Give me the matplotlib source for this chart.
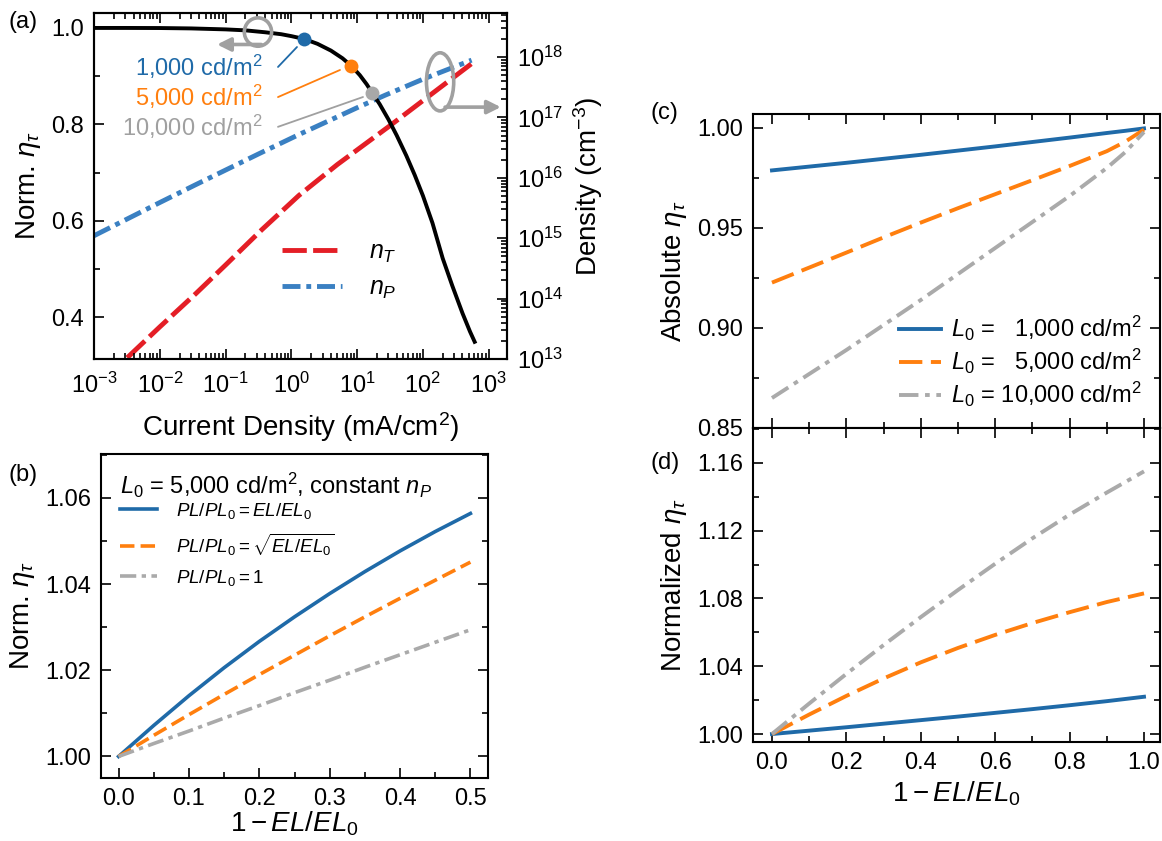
import numpy as np
import matplotlib
matplotlib.use('Agg')
import matplotlib.pyplot as plt
from matplotlib.patches import Ellipse
from matplotlib.ticker import MultipleLocator, LogLocator, NullFormatter

plt.rcParams['font.family'] = ['Liberation Sans', 'DejaVu Sans']
plt.rcParams['mathtext.fontset'] = 'custom'
plt.rcParams['mathtext.rm'] = 'Liberation Sans'
plt.rcParams['mathtext.it'] = 'Liberation Sans:italic'
plt.rcParams['mathtext.bf'] = 'Liberation Sans:bold'
plt.rcParams['axes.linewidth'] = 1.5

# ---------------- data ----------------
# (a) normalized eta_tau vs current density (mA/cm^2)
J_eta = [1e-3, 3e-3, 1e-2, 3e-2, 0.1, 0.2, 0.4, 0.7, 1.0, 1.58, 2.5, 4, 6, 8.2, 11, 14, 17, 22, 30, 40,
         56, 75, 100, 140, 200, 280, 400, 520, 630]
eta_a = [1.0, 1.0, 0.9998, 0.999, 0.997, 0.995, 0.991, 0.987, 0.983, 0.977, 0.967, 0.953, 0.937, 0.921,
         0.902, 0.883, 0.865, 0.842, 0.81, 0.777, 0.735, 0.695, 0.652, 0.595, 0.522, 0.465, 0.408, 0.37, 0.345]
# trap density n_T (cm^-3)
J_nT = [3.2e-3, 1e-2, 0.035, 0.1, 0.36, 1.3, 5.0, 31, 100, 560]
nT = [1.05e13, 3.4e13, 1.2e14, 3.6e14, 1.4e15, 5.1e15, 1.66e16, 7.2e16, 1.9e17, 7.9e17]
# polaron density n_P (cm^-3)
J_nP = [1e-3, 1e-2, 0.036, 0.32, 1.3, 10, 27, 100, 550]
nP = [1.1e15, 3.9e15, 7.8e15, 2.5e16, 5.2e16, 1.45e17, 2.35e17, 4.3e17, 8.9e17]
# highlighted luminance points on eta curve
L_labels = ['1,000 cd/m$^2$', '5,000 cd/m$^2$', '10,000 cd/m$^2$']
J_dots = [1.58, 8.2, 17]
eta_dots = [0.977, 0.921, 0.865]

# (b) L0 = 5,000 cd/m^2, constant n_P
x_b = [0, 0.05, 0.1, 0.15, 0.2, 0.25, 0.3, 0.35, 0.4, 0.45, 0.5]
b_lin = [1.0, 1.0072, 1.0141, 1.0206, 1.0267, 1.0324, 1.0378, 1.0429, 1.0477, 1.0522, 1.0564]
b_sqrt = [1.0, 1.0049, 1.0097, 1.0144, 1.0190, 1.0235, 1.0280, 1.0324, 1.0367, 1.0409, 1.0451]
b_one = [1.0, 1.003, 1.0059, 1.0089, 1.0118, 1.0148, 1.0177, 1.0207, 1.0236, 1.0265, 1.0294]
b_labels = [r'$PL/PL_0 = EL/EL_0$', r'$PL/PL_0 = \sqrt{EL/EL_0}$', r'$PL/PL_0 = 1$']

# (c) absolute eta_tau
x_c = [0, 0.1, 0.2, 0.3, 0.4, 0.5, 0.6, 0.7, 0.8, 0.9, 0.95, 1.0]
c_1000 = [0.9788, 0.9807, 0.9826, 0.9846, 0.9866, 0.9887, 0.9908, 0.9930, 0.9952, 0.9975, 0.9986, 0.9998]
c_5000 = [0.9227, 0.9302, 0.9377, 0.9453, 0.9527, 0.9599, 0.9669, 0.9739, 0.9810, 0.9884, 0.9932, 0.9992]
c_10000 = [0.865, 0.877, 0.889, 0.9015, 0.914, 0.927, 0.940, 0.953, 0.966, 0.980, 0.988, 0.998]
c_labels = [r'$L_0$ =   1,000 cd/m$^2$', r'$L_0$ =   5,000 cd/m$^2$', r'$L_0$ = 10,000 cd/m$^2$']

# (d) normalized eta_tau
x_d = [0, 0.1, 0.2, 0.3, 0.4, 0.5, 0.6, 0.7, 0.8, 0.9, 1.0]
d_1000 = [1.0, 1.002, 1.004, 1.0061, 1.0082, 1.0103, 1.0125, 1.0147, 1.017, 1.0194, 1.022]
d_5000 = [1.0, 1.0115, 1.0225, 1.0328, 1.0423, 1.0508, 1.0585, 1.0655, 1.0719, 1.0779, 1.083]
d_10000 = [1.0, 1.018, 1.0355, 1.0525, 1.069, 1.085, 1.1005, 1.1155, 1.1295, 1.1425, 1.155]

# ---------------- style ----------------
C_BLUE = '#1f6aa8'
C_ORANGE = '#ff7f0e'
C_GRAY = '#aaaaaa'
C_RED = '#e41e26'
C_NP = '#3a80c2'
ANN_GRAY = '#a0a0a0'
TICK_FS = 17
LAB_FS = 20

W, H = 1162, 841
fig = plt.figure(figsize=(W / 100, H / 100), dpi=100)


def rect(l, r, t, b):
    return [l / W, 1 - b / H, (r - l) / W, (b - t) / H]


def style(ax, top=True, right=True):
    ax.tick_params(which='both', direction='in', top=top, right=right, labelsize=TICK_FS, width=1.2)
    ax.tick_params(which='major', length=7.5, pad=7)
    ax.tick_params(which='minor', length=4)


# ---------------- (a) ----------------
ax = fig.add_axes(rect(94, 507, 13, 359))
ax2 = ax.twinx()
ax.set_zorder(ax2.get_zorder() + 1)
ax.patch.set_visible(False)

ax.set_xscale('log')
ax.set_xlim(1e-3, 1.9e3)
ax.set_ylim(0.313, 1.031)
ax2.set_yscale('log')
ax2.set_ylim(1e13, 10 ** 18.73)

ax.plot(J_eta, eta_a, color='black', lw=2.8, solid_capstyle='butt')
for J, e, c in zip(J_dots, eta_dots, [C_BLUE, C_ORANGE, '#a8a8a8']):
    ax.plot([J], [e], 'o', color=c, ms=10, mec='none', zorder=5)

l_nT, = ax2.plot(J_nT, nT, color=C_RED, lw=3.5, dashes=(5, 1.3))
l_nP, = ax2.plot(J_nP, nP, color=C_NP, lw=3.5, dashes=(3.7, 1.2, 1.0, 1.2))

ax.yaxis.set_major_locator(MultipleLocator(0.2))
ax.yaxis.set_minor_locator(MultipleLocator(0.1))
ax.xaxis.set_major_locator(LogLocator(base=10, numticks=20))
ax.xaxis.set_minor_locator(LogLocator(base=10, subs=np.arange(2, 10), numticks=20))
ax.xaxis.set_minor_formatter(NullFormatter())
style(ax, top=True, right=False)
ax.tick_params(axis='x', which='major', pad=10)
ax2.tick_params(which='both', direction='in', labelsize=TICK_FS, width=1.2)
ax2.tick_params(which='major', length=7.5, pad=7)
ax2.tick_params(which='minor', length=4)
ax2.yaxis.set_major_locator(LogLocator(base=10, numticks=20))
ax2.yaxis.set_minor_locator(LogLocator(base=10, subs=np.arange(2, 10), numticks=20))
ax2.yaxis.set_minor_formatter(NullFormatter())

ax.set_xlabel('Current Density (mA/cm$^2$)', fontsize=LAB_FS, labelpad=9)
ax.set_ylabel(r'Norm. $\eta_\tau$', fontsize=LAB_FS, labelpad=6)
ax2.set_ylabel('Density (cm$^{-3}$)', fontsize=LAB_FS, labelpad=6)

# luminance labels with connector lines
txt_y = [0.844, 0.757, 0.671]
ends = [(0.4915, 0.9017), (0.5956, 0.8353), (0.6513, 0.7572)]
for lab, ty, (ex, ey), c in zip(L_labels, txt_y, ends, [C_BLUE, C_ORANGE, ANN_GRAY]):
    ax.text(0.409, ty, lab, transform=ax.transAxes, ha='right', va='center', color=c, fontsize=17)
    ax.annotate('', xy=(ex, ey), xytext=(0.4455, ty), xycoords='axes fraction',
                arrowprops=dict(arrowstyle='-', lw=1.3, color=c, shrinkA=0, shrinkB=0))

# axis indicator ellipses + arrows
ax.add_patch(Ellipse((0.397, 0.945), 0.066, 0.082, transform=ax.transAxes, fill=False,
                     ec=ANN_GRAY, lw=2.6, zorder=6))
ax.annotate('', xy=(0.298, 0.909), xytext=(0.405, 0.909), xycoords='axes fraction',
            arrowprops=dict(arrowstyle='-|>', lw=2.6, color=ANN_GRAY, mutation_scale=20,
                            shrinkA=0, shrinkB=0), zorder=6)
ax.add_patch(Ellipse((0.838, 0.801), 0.066, 0.168, transform=ax.transAxes, fill=False,
                     ec=ANN_GRAY, lw=2.6, zorder=6, clip_on=False))
ax.annotate('', xy=(0.985, 0.728), xytext=(0.85, 0.728), xycoords='axes fraction',
            arrowprops=dict(arrowstyle='-|>', lw=2.6, color=ANN_GRAY, mutation_scale=20,
                            shrinkA=0, shrinkB=0), zorder=6)

ax.legend([l_nT, l_nP], ['$n_T$', '$n_P$'], loc='upper left', bbox_to_anchor=(0.455, 0.345),
          frameon=False, fontsize=18, handlelength=2.4, handletextpad=1.1, labelspacing=0.45,
          borderpad=0, borderaxespad=0)

fig.text(8 / W, 1 - 22 / H, '(a)', fontsize=17, va='center', ha='left')

# ---------------- (b) ----------------
axb = fig.add_axes(rect(101, 488, 454, 778))
axb.plot(x_b, b_lin, color=C_BLUE, lw=2.6, label=b_labels[0])
axb.plot(x_b, b_sqrt, color=C_ORANGE, lw=2.6, dashes=(4, 1.7), label=b_labels[1])
axb.plot(x_b, b_one, color=C_GRAY, lw=2.6, dashes=(4.5, 1.5, 1.2, 1.5), label=b_labels[2])
axb.set_xlim(-0.025, 0.525)
axb.set_ylim(0.995, 1.0702)
axb.xaxis.set_major_locator(MultipleLocator(0.1))
axb.xaxis.set_minor_locator(MultipleLocator(0.05))
axb.yaxis.set_major_locator(MultipleLocator(0.02))
axb.yaxis.set_minor_locator(MultipleLocator(0.01))
style(axb, top=False, right=True)
axb.set_xlabel('$1-EL/EL_0$', fontsize=LAB_FS, labelpad=0)
axb.set_ylabel(r'Norm. $\eta_\tau$', fontsize=LAB_FS, labelpad=6)
axb.text(0.049, 0.904, r'$L_0$ = 5,000 cd/m$^2$, constant $n_P$', transform=axb.transAxes,
         fontsize=17, ha='left', va='center')
axb.legend(loc='upper left', bbox_to_anchor=(0.049, 0.855), frameon=False, fontsize=13.5,
           handlelength=2.0, handletextpad=1.0, labelspacing=0.55, borderpad=0, borderaxespad=0)
fig.text(8 / W, 1 - 475 / H, '(b)', fontsize=17, va='center', ha='left')

# ---------------- (c) ----------------
axc = fig.add_axes(rect(753, 1160, 114, 428))
axc.plot(x_c, c_1000, color=C_BLUE, lw=2.8, label=c_labels[0])
axc.plot(x_c, c_5000, color=C_ORANGE, lw=2.8, dashes=(6, 2.2), label=c_labels[1])
axc.plot(x_c, c_10000, color=C_GRAY, lw=2.8, dashes=(5, 1.7, 1.2, 1.7), label=c_labels[2])
axc.set_xlim(-0.051, 1.043)
axc.set_ylim(0.85, 1.007)
axc.xaxis.set_major_locator(MultipleLocator(0.2))
axc.xaxis.set_minor_locator(MultipleLocator(0.1))
axc.yaxis.set_major_locator(MultipleLocator(0.05))
axc.yaxis.set_minor_locator(MultipleLocator(0.025))
style(axc)
axc.tick_params(labelbottom=False)
axc.set_ylabel(r'Absolute $\eta_\tau$', fontsize=LAB_FS, labelpad=6)
axc.legend(loc='lower right', bbox_to_anchor=(0.955, 0.06), frameon=False, fontsize=17,
           handlelength=1.75, handletextpad=0.45, labelspacing=0.17, borderpad=0, borderaxespad=0)
fig.text(650 / W, 1 - 113 / H, '(c)', fontsize=17, va='center', ha='left')

# ---------------- (d) ----------------
axd = fig.add_axes(rect(753, 1160, 428, 742))
axd.plot(x_d, d_1000, color=C_BLUE, lw=2.8)
axd.plot(x_d, d_5000, color=C_ORANGE, lw=2.8, dashes=(6, 2.2))
axd.plot(x_d, d_10000, color=C_GRAY, lw=2.8, dashes=(5, 1.7, 1.2, 1.7))
axd.set_xlim(-0.051, 1.043)
axd.set_ylim(0.9953, 1.1806)
axd.xaxis.set_major_locator(MultipleLocator(0.2))
axd.xaxis.set_minor_locator(MultipleLocator(0.1))
axd.yaxis.set_major_locator(MultipleLocator(0.04))
axd.yaxis.set_minor_locator(MultipleLocator(0.02))
style(axd)
axd.set_xlabel('$1-EL/EL_0$', fontsize=LAB_FS, labelpad=4)
axd.set_ylabel(r'Normalized $\eta_\tau$', fontsize=LAB_FS, labelpad=6)
fig.text(650 / W, 1 - 463 / H, '(d)', fontsize=17, va='center', ha='left')

fig.savefig('out.png', dpi=100)
